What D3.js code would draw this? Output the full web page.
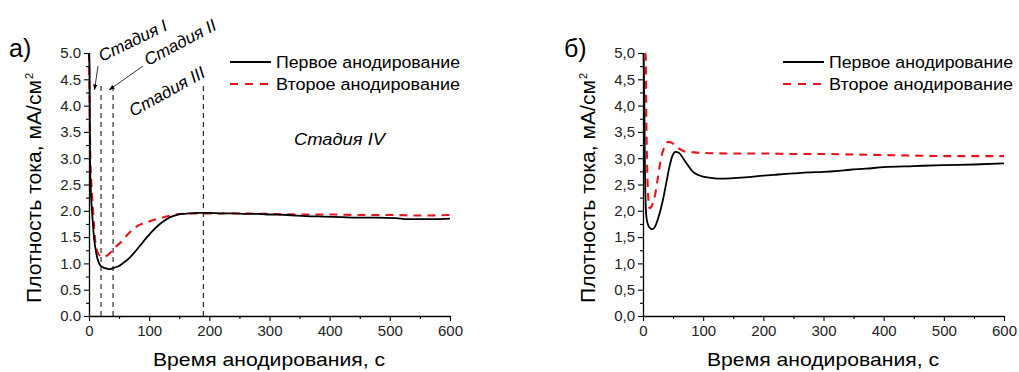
<!DOCTYPE html>
<html>
<head>
<meta charset="utf-8">
<script src="https://cdn.jsdelivr.net/npm/d3@7"></script>
<style>
  body { margin: 0; background: #fff; }
  svg { display: block; font-family: "Liberation Sans", Arial, sans-serif; }
</style>
</head>
<body>
<svg id="chart" width="1019" height="372"></svg>
<script>
// --- данные ---
const seriesNames = ['Первое анодирование', 'Второе анодирование'];
const xTitle = 'Время анодирования, с';
const yTitle = 'Плотность тока, мА/см';

// панель а)
const aFirstT = [0, 1, 1.7, 3, 5, 8.4, 12, 17.8, 24, 30, 34, 40, 48, 56, 65, 75, 85, 95, 105, 115, 125, 135, 145, 155, 165, 180, 200, 220, 240, 260, 280, 300, 330, 360, 390, 420, 450, 480, 510, 530, 550, 570, 600];
const aFirstV = [5.0, 4.6, 3.0, 2.4, 2.0, 1.48, 1.2, 0.98, 0.92, 0.9, 0.89, 0.91, 0.94, 1.0, 1.08, 1.2, 1.34, 1.48, 1.61, 1.72, 1.81, 1.88, 1.92, 1.94, 1.95, 1.96, 1.96, 1.95, 1.95, 1.94, 1.94, 1.93, 1.92, 1.9, 1.89, 1.88, 1.87, 1.87, 1.86, 1.84, 1.84, 1.84, 1.85];
const aSecondT = [0, 1, 2.3, 4, 6.7, 10.6, 14, 19, 25, 30, 37, 45, 56, 65, 79, 98, 118, 145, 170, 200, 250, 300, 350, 400, 450, 500, 550, 600];
const aSecondV = [5.0, 4.0, 3.0, 2.5, 2.0, 1.4, 1.22, 1.14, 1.12, 1.15, 1.22, 1.32, 1.44, 1.56, 1.7, 1.79, 1.86, 1.93, 1.95, 1.95, 1.95, 1.94, 1.93, 1.93, 1.92, 1.92, 1.91, 1.92];
const stageLines = [20, 40, 190];
const stageTop = 4.4;
const stageNames = ['Стадия I', 'Стадия II', 'Стадия III'];

// панель б)
const bFirstT = [1, 2.3, 3, 4, 5.6, 8, 11, 15.6, 20, 25, 33, 39, 44, 49, 54, 60, 66.6, 75, 83, 92, 100, 116, 130, 150, 175, 200, 225, 250, 275, 300, 325, 344, 370, 400, 450, 500, 550, 600];
const bFirstV = [5.0, 4.0, 3.0, 2.3, 1.89, 1.75, 1.68, 1.65, 1.7, 1.85, 2.2, 2.55, 2.84, 3.05, 3.12, 3.1, 3.0, 2.86, 2.74, 2.68, 2.65, 2.62, 2.61, 2.62, 2.64, 2.67, 2.69, 2.71, 2.73, 2.74, 2.76, 2.78, 2.8, 2.83, 2.85, 2.87, 2.88, 2.9];
const bSecondT = [4, 4.5, 5.5, 7, 9, 11, 14, 19.5, 25, 30.6, 36, 41.6, 47, 52.7, 60, 72, 85, 100, 150, 200, 250, 300, 350, 400, 450, 500, 550, 600];
const bSecondV = [5.0, 5.0, 3.8, 2.8, 2.2, 2.05, 2.08, 2.27, 2.65, 3.03, 3.22, 3.31, 3.3, 3.25, 3.18, 3.12, 3.11, 3.1, 3.09, 3.09, 3.08, 3.08, 3.07, 3.06, 3.05, 3.04, 3.04, 3.04];

const xTicks = [0, 100, 200, 300, 400, 500, 600];
const yTicks = [0, 0.5, 1, 1.5, 2, 2.5, 3, 3.5, 4, 4.5, 5];

const RED = '#e8141c';
const svg = d3.select('#chart');
svg.append('rect').attr('width', 1019).attr('height', 372).attr('fill', '#fff');

function zip(t, v) { return t.map((d, i) => ({ t: d, v: v[i] })); }

function drawPanel(p) {
  const g = svg.append('g');
  const x = d3.scaleLinear().domain([0, 600]).range([p.left, p.left + 361]);
  const y = d3.scaleLinear().domain([0, 5]).range([316, 53]);
  const fmt = v => d3.format('.1f')(v).replace('.', p.sep);

  // малые деления
  g.append('g').attr('transform', 'translate(0,316)')
    .call(d3.axisBottom(x).tickValues(d3.range(50, 600, 100)).tickSize(3).tickFormat(''))
    .call(a => a.select('.domain').remove());
  g.append('g').attr('transform', `translate(${p.left},0)`)
    .call(d3.axisLeft(y).tickValues(d3.range(0.25, 5, 0.5)).tickSize(3).tickFormat(''))
    .call(a => a.select('.domain').remove());

  const ax = g.append('g').attr('transform', 'translate(0,316)')
    .call(d3.axisBottom(x).tickValues(xTicks).tickSize(5).tickSizeOuter(0).tickPadding(4));
  const ay = g.append('g').attr('transform', `translate(${p.left},0)`)
    .call(d3.axisLeft(y).tickValues(yTicks).tickFormat(fmt).tickSize(5).tickSizeOuter(0).tickPadding(3));
  [ax, ay].forEach(a => {
    a.selectAll('text').attr('font-size', 15).attr('fill', '#222')
      .attr('font-family', '"Liberation Sans", Arial, sans-serif');
    a.selectAll('path').attr('stroke', '#000').attr('stroke-width', 1.3);
  });
  g.selectAll('.tick line').attr('stroke', '#000').attr('stroke-width', 1.1);

  // подписи осей
  g.append('text').attr('x', p.left + 180).attr('y', 366).attr('text-anchor', 'middle')
    .attr('font-size', 19).attr('textLength', 232).attr('lengthAdjust', 'spacingAndGlyphs')
    .text(xTitle);
  g.append('text')
    .attr('transform', `translate(${p.left - 48},303) rotate(-90)`)
    .attr('font-size', 20).attr('textLength', 223).attr('lengthAdjust', 'spacingAndGlyphs')
    .text(yTitle);
  g.append('text')
    .attr('transform', `translate(${p.left - 56},79) rotate(-90)`)
    .attr('font-size', 11).text('2');

  g.append('text').attr('x', p.labelX).attr('y', 57).attr('font-size', 25).text(p.label);

  const line = d3.line().x(d => x(d.t)).y(d => y(d.v)).curve(d3.curveMonotoneX);
  g.append('path').datum(zip(p.secondT, p.secondV)).attr('d', line)
    .attr('fill', 'none').attr('stroke', RED).attr('stroke-width', 2.1).attr('stroke-dasharray', '8,6');
  g.append('path').datum(zip(p.firstT, p.firstV)).attr('d', line)
    .attr('fill', 'none').attr('stroke', '#000').attr('stroke-width', 1.8);

  // легенда
  const lg = g.append('g').attr('transform', `translate(${p.legendX},0)`);
  lg.append('line').attr('x1', 0).attr('x2', 41).attr('y1', 62).attr('y2', 62)
    .attr('stroke', '#000').attr('stroke-width', 2.2);
  lg.append('line').attr('x1', 0).attr('x2', 41).attr('y1', 84).attr('y2', 84)
    .attr('stroke', RED).attr('stroke-width', 2.2).attr('stroke-dasharray', '8,7');
  lg.selectAll('text.leg').data(seriesNames).join('text')
    .attr('x', 46).attr('y', (d, i) => 67.5 + i * 22.5).attr('font-size', 16)
    .attr('textLength', 184).attr('lengthAdjust', 'spacingAndGlyphs').text(d => d);

  return { x, y, g };
}

// панель а)
const A = drawPanel({ left: 89, sep: '.', label: 'а)', labelX: 9, legendX: 230,
  firstT: aFirstT, firstV: aFirstV, secondT: aSecondT, secondV: aSecondV });

A.g.selectAll('line.stage').data(stageLines).join('line')
  .attr('x1', d => A.x(d)).attr('x2', d => A.x(d))
  .attr('y1', A.y(0)).attr('y2', A.y(stageTop))
  .attr('stroke', '#000').attr('stroke-width', 1).attr('stroke-dasharray', '5,4');

// подписи стадий (положение и наклон как на рисунке)
const stagePos = [
  { x: 102, y: 62, a: 26, len: 74 },
  { x: 148, y: 66, a: 28, len: 79 },
  { x: 133, y: 117, a: 29, len: 84 }
];
A.g.selectAll('text.stage').data(stageNames).join('text')
  .attr('transform', (d, i) => `translate(${stagePos[i].x},${stagePos[i].y}) rotate(${-stagePos[i].a})`)
  .attr('font-size', 17).attr('font-style', 'italic')
  .attr('textLength', (d, i) => stagePos[i].len).attr('lengthAdjust', 'spacingAndGlyphs')
  .text(d => d);
A.g.append('text').attr('x', 294).attr('y', 145).attr('font-size', 17)
  .attr('font-style', 'italic').attr('textLength', 91).attr('lengthAdjust', 'spacingAndGlyphs')
  .text('Стадия IV');

// стрелки
svg.append('defs').append('marker').attr('id', 'arr').attr('viewBox', '0 0 10 10')
  .attr('refX', 10).attr('refY', 5).attr('markerWidth', 7).attr('markerHeight', 7)
  .attr('orient', 'auto').append('path').attr('d', 'M0,1 L10,5 L0,9 Z').attr('fill', '#000');
const arrows = [[98, 66, 94.5, 90], [143, 66, 109, 90]];
A.g.selectAll('line.arr').data(arrows).join('line')
  .attr('x1', d => d[0]).attr('y1', d => d[1]).attr('x2', d => d[2]).attr('y2', d => d[3])
  .attr('stroke', '#000').attr('stroke-width', 0.8).attr('marker-end', 'url(#arr)');

// панель б)
drawPanel({ left: 643, sep: ',', label: 'б)', labelX: 564, legendX: 783,
  firstT: bFirstT, firstV: bFirstV, secondT: bSecondT, secondV: bSecondV });
</script>
</body>
</html>
